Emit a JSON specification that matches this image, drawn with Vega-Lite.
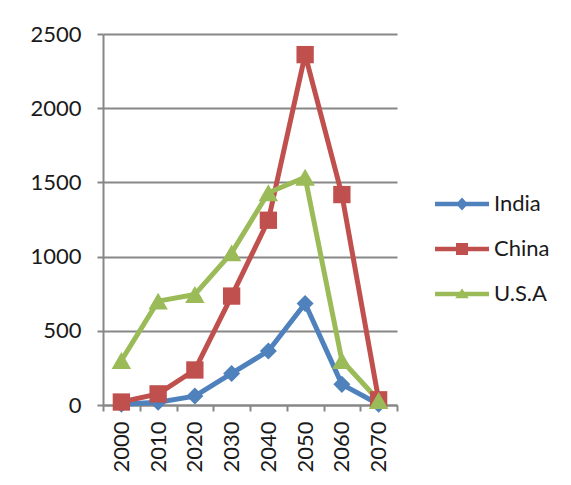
{
  "$schema": "https://vega.github.io/schema/vega-lite/v6.json",
  "autosize": {"type": "none"},
  "padding": {"left": 103, "top": 34, "right": 174, "bottom": 80},
  "width": 294,
  "height": 371,
  "background": "white",
  "config": {
    "view": {"stroke": null},
    "axis": {"labelFont": "Lato", "labelFontSize": 22, "labelColor": "#1a1a1a", "domainColor": "#878787", "domainWidth": 2, "tickColor": "#878787", "tickWidth": 2, "tickSize": 6, "gridColor": "#878787", "gridWidth": 2, "title": null}
  },
  "data": {"values": [
    {"year": "2000", "country": "India", "value": 5},
    {"year": "2010", "country": "India", "value": 18},
    {"year": "2020", "country": "India", "value": 60},
    {"year": "2030", "country": "India", "value": 213},
    {"year": "2040", "country": "India", "value": 364},
    {"year": "2050", "country": "India", "value": 684},
    {"year": "2060", "country": "India", "value": 139},
    {"year": "2070", "country": "India", "value": 5},
    {"year": "2000", "country": "China", "value": 20},
    {"year": "2010", "country": "China", "value": 75},
    {"year": "2020", "country": "China", "value": 236},
    {"year": "2030", "country": "China", "value": 734},
    {"year": "2040", "country": "China", "value": 1245},
    {"year": "2050", "country": "China", "value": 2361},
    {"year": "2060", "country": "China", "value": 1418},
    {"year": "2070", "country": "China", "value": 35},
    {"year": "2000", "country": "U.S.A", "value": 300},
    {"year": "2010", "country": "U.S.A", "value": 700},
    {"year": "2020", "country": "U.S.A", "value": 745},
    {"year": "2030", "country": "U.S.A", "value": 1025},
    {"year": "2040", "country": "U.S.A", "value": 1430},
    {"year": "2050", "country": "U.S.A", "value": 1535},
    {"year": "2060", "country": "U.S.A", "value": 300},
    {"year": "2070", "country": "U.S.A", "value": 30}
  ]},
  "encoding": {
    "x": {"field": "year", "type": "ordinal", "scale": {"type": "band", "paddingInner": 0, "paddingOuter": 0},
      "axis": {"labelAngle": -90, "tickBand": "extent", "labelPadding": 10, "grid": false}},
    "y": {"field": "value", "type": "quantitative", "scale": {"domain": [0, 2500], "nice": false},
      "axis": {"values": [0, 500, 1000, 1500, 2000, 2500], "format": "d", "labelPadding": 16, "grid": true}}
  },
  "layer": [
    {"mark": {"type": "line", "strokeWidth": 5, "strokeJoin": "round"},
      "encoding": {
        "color": {"field": "country", "type": "nominal",
          "scale": {"domain": ["India", "China", "U.S.A"], "range": ["#4F81BD", "#C0504D", "#9BBB59"]},
          "legend": {"orient": "none", "legendX": 348, "legendY": 159, "title": null, "symbolSize": 400, "labelOffset": 21, "rowPadding": 23, "labelFont": "Lato", "labelFontSize": 22, "labelColor": "#1a1a1a",
            "encode": {"symbols": {"update": {
              "shape": {"signal": "datum.value === 'India' ? 'M-2.7,-0.22H2.7V0.22H-2.7Z M0,-0.65L0.6,0L0,0.65L-0.6,0Z' : datum.value === 'China' ? 'M-2.7,-0.22H2.7V0.22H-2.7Z M-0.6,-0.6H0.6V0.6H-0.6Z' : 'M-2.7,-0.22H2.7V0.22H-2.7Z M0,-0.55L0.68,0.42L-0.68,0.42Z'"},
              "fill": {"signal": "datum.value === 'India' ? '#4F81BD' : datum.value === 'China' ? '#C0504D' : '#9BBB59'"},
              "stroke": {"value": "transparent"},
              "strokeWidth": {"value": 0},
              "opacity": {"value": 1}
            }}}}
        }
      }},
    {"transform": [{"filter": "datum.country === 'India'"}],
      "mark": {"type": "point", "filled": true, "opacity": 1, "shape": "diamond", "size": 290, "color": "#4F81BD"}},
    {"transform": [{"filter": "datum.country === 'China'"}],
      "mark": {"type": "point", "filled": true, "opacity": 1, "shape": "square", "size": 300, "color": "#C0504D"}},
    {"transform": [{"filter": "datum.country === 'U.S.A'"}],
      "mark": {"type": "point", "filled": true, "opacity": 1, "shape": "triangle-up", "size": 380, "color": "#9BBB59"}}
  ]
}
